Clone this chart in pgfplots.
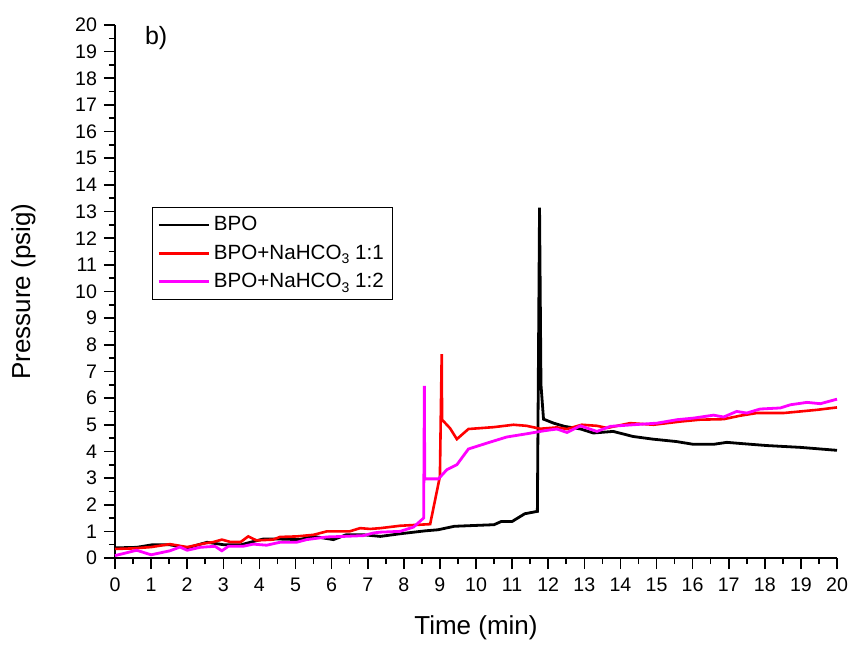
\documentclass[border=0pt]{standalone}
\usepackage{fontspec}
\setmainfont{Liberation Sans}
\usepackage{pgfplots}
\pgfplotsset{compat=1.18}
\definecolor{bpomag}{RGB}{255,0,255}
\begin{document}
\begin{tikzpicture}
\begin{axis}[
  scale only axis,
  width=361pt, height=266.5pt,
  xmin=0, xmax=20, ymin=0, ymax=20,
  axis lines=left,
  axis line style={-, line width=1pt},
  xtick={0,1,...,20}, ytick={0,1,...,20},
  minor x tick num=1, minor y tick num=1,
  tick align=outside,
  major tick length=5.5pt, minor tick length=3pt,
  tick style={black, line width=0.8pt},
  ticklabel style={font=\fontsize{9.8}{11}\selectfont},
  xticklabel style={yshift=-1pt},
  /pgf/number format/assume math mode=true,
  xlabel={Time (min)}, ylabel={Pressure (psig)},
  label style={font=\fontsize{13}{15}\selectfont},
  xlabel style={at={(axis description cs:0.5,-0.131)}, anchor=center},
  ylabel style={at={(axis description cs:-0.127,0.5)}, anchor=center},
  legend style={at={(0.051,0.659)}, anchor=north west, draw=black, line width=0.5pt,
    font=\fontsize{10.3}{12}\selectfont, row sep=1.5pt, inner sep=2.5pt},
  legend cell align=left,
  legend image code/.code={\draw[#1, line width=1.3pt] (0pt,0pt) -- (25pt,0pt);},
  clip=false,
]
% BPO
\addplot[black, line width=1.4pt] coordinates {
(0,0.38) (0.6,0.40) (1.05,0.50) (1.5,0.50) (2.0,0.38) (2.55,0.59) (3.0,0.50)
(3.5,0.50) (3.75,0.59) (4.1,0.71) (4.6,0.71) (5.1,0.69) (5.5,0.81) (6.05,0.69)
(6.4,0.87) (6.9,0.87) (7.35,0.81) (7.9,0.91) (8.6,1.02) (8.95,1.06) (9.4,1.19)
(10.5,1.25) (10.7,1.37) (11.0,1.37) (11.35,1.66) (11.7,1.75) (11.76,13.15)
(11.8,6.5) (11.87,5.21) (12.15,5.06) (12.45,4.94) (12.9,4.84) (13.25,4.69)
(13.8,4.75) (14.35,4.56) (14.9,4.46) (15.55,4.37) (16.0,4.27) (16.6,4.27)
(16.95,4.34) (17.3,4.30) (18.05,4.22) (19.0,4.15) (20,4.04)
};
\addlegendentry{BPO}
% BPO+NaHCO3 1:1
\addplot[red, line width=1.3pt] coordinates {
(0,0.34) (0.5,0.36) (1.0,0.41) (1.52,0.52) (2.0,0.41) (2.45,0.54) (2.73,0.60)
(2.96,0.69) (3.2,0.60) (3.48,0.60) (3.69,0.81) (3.92,0.66) (4.38,0.69)
(4.57,0.79) (5.03,0.81) (5.5,0.87) (5.87,1.00) (6.5,1.00) (6.79,1.12)
(7.07,1.09) (7.35,1.12) (7.9,1.21) (8.73,1.27) (9.0,3.06) (9.05,7.65)
(9.06,5.19) (9.28,4.87) (9.47,4.46) (9.79,4.84) (10.49,4.91) (11.04,5.0)
(11.4,4.96) (11.78,4.85) (12.24,4.9) (12.52,4.84) (12.93,5.0) (13.35,4.96)
(13.63,4.88) (14.27,5.06) (14.92,5.0) (15.66,5.12) (16.2,5.19) (16.86,5.21)
(17.32,5.34) (17.78,5.44) (18.52,5.44) (18.99,5.5) (19.45,5.56) (20,5.65)
};
\addlegendentry{BPO+NaHCO\raisebox{-0.45ex}{\scriptsize 3} 1:1}
% BPO+NaHCO3 1:2
\addplot[bpomag, line width=1.4pt] coordinates {
(0,0.09) (0.6,0.29) (1.0,0.12) (1.52,0.27) (1.8,0.41) (2.0,0.29) (2.36,0.40)
(2.77,0.44) (2.96,0.27) (3.14,0.44) (3.55,0.44) (3.83,0.52) (4.2,0.48)
(4.57,0.59) (5.03,0.59) (5.31,0.69) (5.87,0.79) (6.33,0.81) (6.88,0.84)
(7.16,0.94) (7.35,0.97) (7.9,1.0) (8.27,1.16) (8.55,1.5) (8.57,6.46)
(8.58,2.97) (8.96,2.97) (9.19,3.31) (9.47,3.5) (9.79,4.09) (10.3,4.31)
(10.85,4.54) (11.4,4.66) (11.87,4.77) (12.24,4.84) (12.52,4.71) (12.89,4.96)
(13.35,4.75) (13.72,4.94) (14.36,5.0) (15.01,5.06) (15.57,5.19) (16.03,5.25)
(16.58,5.36) (16.86,5.29) (17.22,5.5) (17.5,5.44) (17.87,5.59) (18.43,5.63)
(18.71,5.75) (19.17,5.84) (19.54,5.79) (20,5.96)
};
\addlegendentry{BPO+NaHCO\raisebox{-0.45ex}{\scriptsize 3} 1:2}
\node[font=\fontsize{12.5}{14}\selectfont] at (axis cs:1.14,19.5) {b)};
% page frame matching the reference margins
\path (rel axis cs:0,0) ++(-57.5pt,-42pt) rectangle ++(427.5pt,321pt);
\end{axis}
\end{tikzpicture}
\end{document}
